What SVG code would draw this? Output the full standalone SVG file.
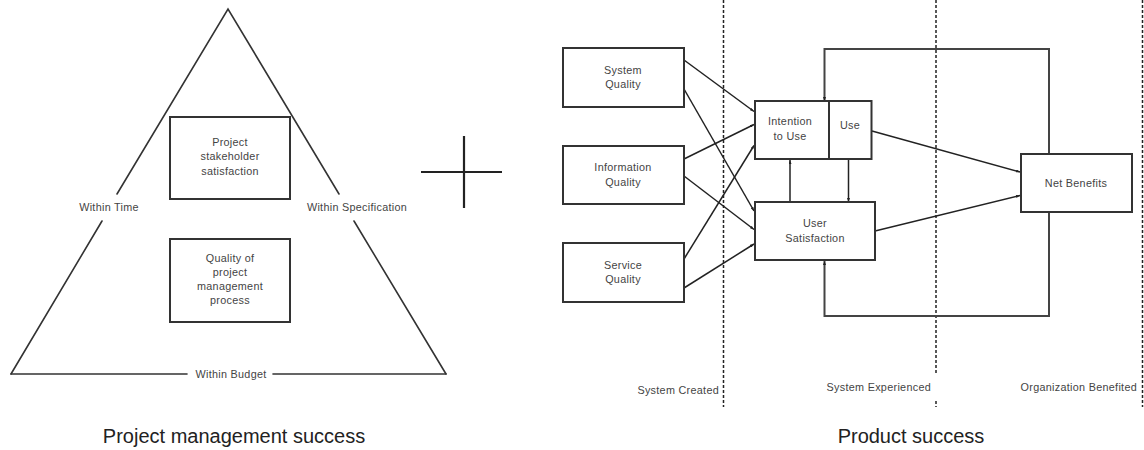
<svg xmlns="http://www.w3.org/2000/svg" width="1144" height="450" viewBox="0 0 1144 450">
  <style>
    .box { fill: #fff; stroke: #333; stroke-width: 2; }
    .t { font-family: "Liberation Sans", Arial, sans-serif; font-size: 10.8px; letter-spacing: 0.3px; fill: #444; text-anchor: middle; }
    .tl { font-family: "Liberation Sans", Arial, sans-serif; font-size: 10.8px; letter-spacing: 0.3px; fill: #444; }
    .title { font-family: "Liberation Sans", Arial, sans-serif; font-size: 20px; fill: #222; text-anchor: middle; }
    .edge { fill: none; stroke: #222; stroke-width: 1.5; }
    .loop { fill: none; stroke: #444; stroke-width: 2; }
    .tri { fill: none; stroke: #333; stroke-width: 1.6; stroke-linecap: round; }
    .dash { fill: none; stroke: #222; stroke-width: 1.5; stroke-dasharray: 3 2; }
    .plus { stroke: #222; stroke-width: 2.2; }
  </style>
  <defs>
    <marker id="ah" markerWidth="4" markerHeight="3" refX="4" refY="1.5" orient="auto" markerUnits="userSpaceOnUse">
      <path d="M0,0 L4,1.5 L0,3 z" fill="#222"/>
    </marker>
  </defs>
  <rect width="1144" height="450" fill="#fff"/>

  <!-- Left: project management triangle -->
  <g id="triangle">
    <polyline class="tri" points="117,194 228,9 339,194"/>
    <line class="tri" x1="102" y1="221" x2="11" y2="374"/>
    <line class="tri" x1="354" y1="221" x2="446" y2="374"/>
    <line class="tri" x1="11" y1="374" x2="187" y2="374"/>
    <line class="tri" x1="273" y1="374" x2="446" y2="374"/>
    <text class="t" x="109" y="211">Within Time</text>
    <text class="t" x="357" y="211">Within Specification</text>
    <text class="t" x="231" y="378">Within Budget</text>
  </g>
  <g id="stakeholder">
    <rect class="box" x="170" y="117" width="120" height="82"/>
    <text class="t" x="230" y="146">Project</text>
    <text class="t" x="230" y="160">stakeholder</text>
    <text class="t" x="230" y="174.5">satisfaction</text>
  </g>
  <g id="pm-process">
    <rect class="box" x="170" y="239" width="120" height="83"/>
    <text class="t" x="230" y="262">Quality of</text>
    <text class="t" x="230" y="276">project</text>
    <text class="t" x="230" y="290">management</text>
    <text class="t" x="230" y="304">process</text>
  </g>
  <text class="title" x="234" y="443">Project management success</text>

  <!-- Plus sign -->
  <g id="plus">
    <line class="plus" x1="421" y1="172" x2="502" y2="172"/>
    <line class="plus" x1="464" y1="136" x2="464" y2="208"/>
  </g>

  <!-- Right: D&M model -->
  <g id="stage-lines">
    <line class="dash" x1="723.5" y1="0" x2="723.5" y2="407"/>
    <line class="dash" x1="936" y1="0" x2="936" y2="373"/>
    <line class="dash" x1="936" y1="401" x2="936" y2="407"/>
    <line class="dash" x1="1142.5" y1="0" x2="1142.5" y2="407"/>
    <text class="tl" x="719" y="394" text-anchor="end">System Created</text>
    <text class="tl" x="931" y="391" text-anchor="end">System Experienced</text>
    <text class="tl" x="1137" y="391" text-anchor="end">Organization Benefited</text>
  </g>

  <g id="connectors">
    <line class="edge" x1="684" y1="60" x2="754" y2="111.5" marker-end="url(#ah)"/>
    <line class="edge" x1="684" y1="89" x2="754" y2="211" marker-end="url(#ah)"/>
    <line class="edge" x1="684" y1="159" x2="754" y2="124.5" marker-end="url(#ah)"/>
    <line class="edge" x1="684" y1="176" x2="754" y2="229.5" marker-end="url(#ah)"/>
    <line class="edge" x1="684" y1="259" x2="754" y2="145.5" marker-end="url(#ah)"/>
    <line class="edge" x1="684" y1="288" x2="754" y2="244" marker-end="url(#ah)"/>
    <line class="edge" x1="790" y1="202" x2="790" y2="160" marker-end="url(#ah)"/>
    <line class="edge" x1="848.5" y1="160" x2="848.5" y2="202" marker-end="url(#ah)"/>
    <line class="edge" x1="872" y1="131" x2="1020" y2="172" marker-end="url(#ah)"/>
    <line class="edge" x1="875" y1="231" x2="1020" y2="195.5" marker-end="url(#ah)"/>
    <polyline class="loop" points="1049,154 1049,49 824.5,49 824.5,101" marker-end="url(#ah)"/>
    <polyline class="loop" points="1049,213 1049,316 824.5,316 824.5,261" marker-end="url(#ah)"/>
  </g>

  <g id="system-quality">
    <rect class="box" x="563" y="48" width="121" height="59"/>
    <text class="t" x="623" y="74">System</text>
    <text class="t" x="623" y="88">Quality</text>
  </g>
  <g id="information-quality">
    <rect class="box" x="563" y="146" width="121" height="58"/>
    <text class="t" x="623" y="171">Information</text>
    <text class="t" x="623" y="185.5">Quality</text>
  </g>
  <g id="service-quality">
    <rect class="box" x="563" y="243" width="121" height="59"/>
    <text class="t" x="623" y="269">Service</text>
    <text class="t" x="623" y="283">Quality</text>
  </g>
  <g id="intention-use">
    <rect class="box" x="755" y="101" width="116.5" height="58"/>
    <line x1="829" y1="101" x2="829" y2="159" stroke="#333" stroke-width="2"/>
    <text class="t" x="790" y="125">Intention</text>
    <text class="t" x="790" y="140">to Use</text>
    <text class="t" x="850" y="129">Use</text>
  </g>
  <g id="user-satisfaction">
    <rect class="box" x="755" y="202" width="120" height="58"/>
    <text class="t" x="815" y="227">User</text>
    <text class="t" x="815" y="241.5">Satisfaction</text>
  </g>
  <g id="net-benefits">
    <rect class="box" x="1021" y="154" width="111" height="58"/>
    <text class="t" x="1076" y="186.5">Net Benefits</text>
  </g>
  <text class="title" x="911" y="443">Product success</text>
</svg>
